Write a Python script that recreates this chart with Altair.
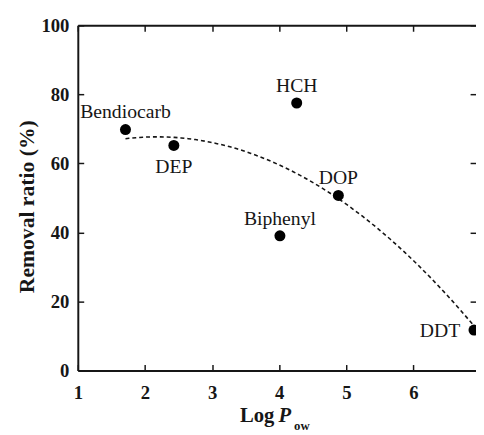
import altair as alt
import pandas as pd

# ---- data ----
names = ["Bendiocarb", "DEP", "HCH", "Biphenyl", "DOP", "DDT"]
log_pow = [1.71, 2.43, 4.26, 4.01, 4.88, 6.90]
removal = [69.8, 65.2, 77.5, 39.0, 50.7, 11.7]

above = ["Bendiocarb", "HCH", "Biphenyl", "DOP"]
below = ["DEP"]
left_of = ["DDT"]

x_ticks = [1, 2, 3, 4, 5, 6]
y_ticks = [0, 20, 40, 60, 80, 100]
y_title = "Removal ratio (%)"
x_title_parts = ["Log", "P", "ow"]

df = pd.DataFrame({"name": names, "log_pow": log_pow, "removal": removal})

FONT = "Liberation Serif"
INK = "#161616"

xs = alt.Scale(domain=[1, 6.93], nice=False, zero=False)
ys = alt.Scale(domain=[0, 100], nice=False)

common = dict(
    domainColor=INK, domainWidth=2, tickColor=INK, tickWidth=1.5,
    tickSize={"expr": "-6"}, grid=False,
)
label_style = dict(labelFont=FONT, labelFontSize=19, labelFontWeight="bold",
                   labelColor=INK)

x_bottom = alt.X(
    "log_pow:Q", scale=xs,
    axis=alt.Axis(values=x_ticks, orient="bottom", title=None,
                  labelPadding=20, labelFlush=False, **label_style, **common),
)
y_left = alt.Y(
    "removal:Q", scale=ys,
    axis=alt.Axis(values=y_ticks, orient="left", title=y_title,
                  titleFont=FONT, titleFontSize=22, titleFontWeight="bold",
                  titleColor=INK, titleX=-52, titleY=184, titleAngle=-90,
                  titleAlign="center", titleBaseline="middle",
                  labelPadding=15, **label_style, **common),
)
x_top = alt.X(
    "log_pow:Q", scale=xs,
    axis=alt.Axis(values=x_ticks, orient="top", title=None, labels=False,
                  **common),
)
y_right = alt.Y(
    "removal:Q", scale=ys,
    axis=alt.Axis(values=y_ticks, orient="right", title=None, labels=False,
                  domain=False, **common),
)
x_plain = alt.X("log_pow:Q", scale=xs, axis=None)
y_plain = alt.Y("removal:Q", scale=ys, axis=None)

base = alt.Chart(df)

curve = base.transform_regression(
    "log_pow", "removal", method="poly", order=2
).mark_line(color=INK, strokeDash=[4, 3], strokeWidth=1.6).encode(
    x=x_top, y=y_right
)

points = base.mark_circle(size=125, color="black", opacity=1).encode(
    x=x_bottom, y=y_left
)

txt = dict(font=FONT, fontSize=20, color=INK)
lab_above = base.transform_filter(
    alt.FieldOneOfPredicate(field="name", oneOf=above)
).mark_text(baseline="middle", align="center", dy=-17.5, **txt).encode(
    x=x_plain, y=y_plain, text="name:N")
lab_below = base.transform_filter(
    alt.FieldOneOfPredicate(field="name", oneOf=below)
).mark_text(baseline="middle", align="center", dy=22, **txt).encode(
    x=x_plain, y=y_plain, text="name:N")
lab_left = base.transform_filter(
    alt.FieldOneOfPredicate(field="name", oneOf=left_of)
).mark_text(baseline="middle", align="right", dx=-14, dy=1, **txt).encode(
    x=x_plain, y=y_plain, text="name:N")

tdf = pd.DataFrame({"t": x_title_parts})
t_log = alt.Chart(tdf).transform_filter(alt.datum.t == "Log").mark_text(
    font=FONT, fontSize=21, fontWeight="bold", color=INK, align="left",
    baseline="alphabetic").encode(x=alt.value(165), y=alt.value(403), text="t:N")
t_p = alt.Chart(tdf).transform_filter(alt.datum.t == "P").mark_text(
    font=FONT, fontSize=21, fontWeight="bold", fontStyle="italic", color=INK,
    align="left", baseline="alphabetic").encode(
    x=alt.value(204), y=alt.value(403), text="t:N")
t_ow = alt.Chart(tdf).transform_filter(alt.datum.t == "ow").mark_text(
    font=FONT, fontSize=13, fontWeight="bold", color=INK, align="left",
    baseline="alphabetic").encode(x=alt.value(220), y=alt.value(412), text="t:N")

chart = alt.layer(
    curve, points, lab_above, lab_below, lab_left, t_log, t_p, t_ow
).resolve_axis(x="independent", y="independent").properties(
    width=405, height=351,
    padding={"left": 71, "top": 14, "right": 0, "bottom": 62},
    autosize=alt.AutoSizeParams(type="none"),
).configure_view(stroke=None)

chart.save("out.html", embed_options={"renderer": "svg", "actions": False})
